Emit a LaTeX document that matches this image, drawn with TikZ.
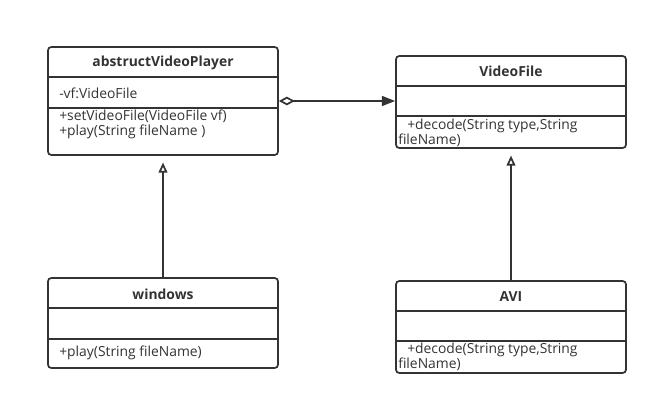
\documentclass[tikz,border=0pt]{standalone}
\usepackage{fontspec}
\setmainfont{Open Sans}
\usetikzlibrary{arrows.meta, fit}
\definecolor{umlgray}{HTML}{333333}

\begin{document}
\begin{tikzpicture}[x=0.75pt, y=-0.75pt,
    classbox/.style = {draw=umlgray, line width=1.3pt, rounded corners=2.5pt, inner sep=0pt},
    classname/.style = {font=\fontsize{10.4}{11.25}\selectfont\bfseries, text=umlgray, inner sep=0pt},
    member/.style = {font=\fontsize{10.4}{11.25}\selectfont, anchor=west, align=left, text=umlgray, inner sep=0pt},
    divider/.style = {draw=umlgray, line width=1.3pt},
    aggregation/.style = {draw=umlgray, line width=1.3pt, {Diamond[open, length=12pt, width=6.5pt]}-{Triangle[length=10pt, width=7.5pt]}},
    inherit/.style = {draw=umlgray, line width=1.3pt, -{Triangle[open, length=7.5pt, width=6.5pt]}, shorten >=5pt}
]
\useasboundingbox (0,0) rectangle (658,405);

% abstract player
\node[classbox, fit={(48,47) (278,155)}] (player) {};
\draw[divider] (48,77) -- (278,77);
\draw[divider] (48,108) -- (278,108);
\node[classname] (playername) at (163,63) {abstructVideoPlayer};
\node[member] (playerattr) at (59,93) {-vf:VideoFile};
\node[member] (playerops) at (59,124.5) {+setVideoFile(VideoFile vf)\\+play(String fileName )};

% video file
\node[classbox, fit={(396,56) (626,148)}] (videofile) {};
\draw[divider] (396,86) -- (626,86);
\draw[divider] (396,116) -- (626,116);
\node[classname] (videofilename) at (511,71) {VideoFile};
\node[member] (videofileops) at (398,132.5) {\hspace*{6.75pt}+decode(String type,String\\fileName)};

% windows
\node[classbox, fit={(48,278) (278,368)}] (windows) {};
\draw[divider] (48,308) -- (278,308);
\draw[divider] (48,339) -- (278,339);
\node[classname] (windowsname) at (163,294) {windows};
\node[member] (windowsops) at (59,353) {+play(String fileName)};

% AVI
\node[classbox, fit={(396,281) (626,373)}] (avi) {};
\draw[divider] (396,311) -- (626,311);
\draw[divider] (396,341) -- (626,341);
\node[classname] (aviname) at (511,297) {AVI};
\node[member] (aviops) at (398,357) {\hspace*{6.75pt}+decode(String type,String\\fileName)};

% relations
\draw[aggregation] (player.east) -- (player.east -| videofile.west);
\draw[inherit] (windows) -- (player);
\draw[inherit] (avi) -- (videofile);

\end{tikzpicture}
\end{document}
